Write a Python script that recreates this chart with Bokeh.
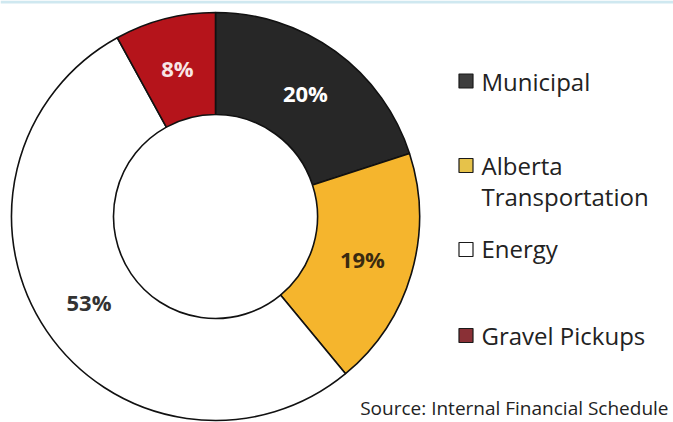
import math
from bokeh.plotting import figure
from bokeh.models import Range1d, ColumnDataSource
from bokeh.core.properties import value
from bokeh.embed import file_html
from bokeh.resources import INLINE

# ---- data ----
categories = ["Municipal", "Alberta Transportation", "Energy", "Gravel Pickups"]
shares = [20, 19, 53, 8]
legend_lines = [["Municipal"], ["Alberta", "Transportation"], ["Energy"], ["Gravel Pickups"]]
source_note = "Source: Internal Financial Schedule"

# ---- styles ----
wedge_colors = ["#272727", "#f5b52d", "#ffffff", "#b5141b"]
swatch_colors = ["#3d3d3d", "#e6c24a", "#ffffff", "#8a3036"]
label_colors = ["#ffffff", "#3a2a10", "#333333", "#f8e6e6"]

W, H = 673, 422


def Y(screen_y):
    # convert picture-pixel y to data y (y axis up)
    return H - screen_y


p = figure(width=W, height=H, x_range=Range1d(0, W), y_range=Range1d(0, H),
           x_axis_type=None, y_axis_type=None, toolbar_location=None,
           output_backend="svg", min_border=0, outline_line_color=None,
           background_fill_color="white", border_fill_color="white")
p.grid.visible = False

# thin light-blue band at the very top
p.rect(x=[W / 2], y=[Y(1.5)], width=W, height=3, fill_color="#cfe8f0", line_color=None)

cx, cy = 215, Y(216)
r_out, r_in = 204, 102

total = sum(shares)
starts, ends, lx, ly, labels = [], [], [], [], []
acc = 0.0
for s in shares:
    a0 = math.pi / 2 - 2 * math.pi * acc / total
    a1 = math.pi / 2 - 2 * math.pi * (acc + s) / total
    starts.append(a0)
    ends.append(a1)
    mid = (a0 + a1) / 2
    rl = (r_in + r_out) / 2
    lx.append(cx + rl * math.cos(mid))
    ly.append(cy + rl * math.sin(mid))
    labels.append(f"{round(100 * s / total)}%")
    acc += s

src = ColumnDataSource(dict(start=starts, end=ends, color=wedge_colors,
                            lx=lx, ly=ly, label=labels, lcolor=label_colors))

p.annular_wedge(x=cx, y=cy, inner_radius=r_in, outer_radius=r_out,
                start_angle="start", end_angle="end", direction="clock",
                fill_color="color", line_color="#111111", line_width=1.6, source=src)

p.text(x="lx", y="ly", text="label", text_color="lcolor", source=src,
       text_font=value("Open Sans"), text_font_style="bold", text_font_size="22px",
       text_align="center", text_baseline="middle")

# ---- legend ----
sw_centers = [80.5, 165, 249, 335]
baselines = [[81], [165, 196], [248], [335]]
sq_x = 465.5
for i, lines in enumerate(legend_lines):
    p.rect(x=[sq_x], y=[Y(sw_centers[i])], width=14, height=14,
           fill_color=swatch_colors[i], line_color="#1a1a1a", line_width=1.2)
    for ln, b in zip(lines, baselines[i]):
        p.text(x=[481], y=[Y(b)], text=[ln], text_color="#222222",
               text_font=value("Open Sans"), text_font_size="24px",
               text_align="left", text_baseline="alphabetic")

p.text(x=[668], y=[Y(407)], text=[source_note], text_color="#222222",
       text_font=value("Open Sans"), text_font_size="19px",
       text_align="right", text_baseline="alphabetic")

open("out.html", "w").write(file_html(p, INLINE))
